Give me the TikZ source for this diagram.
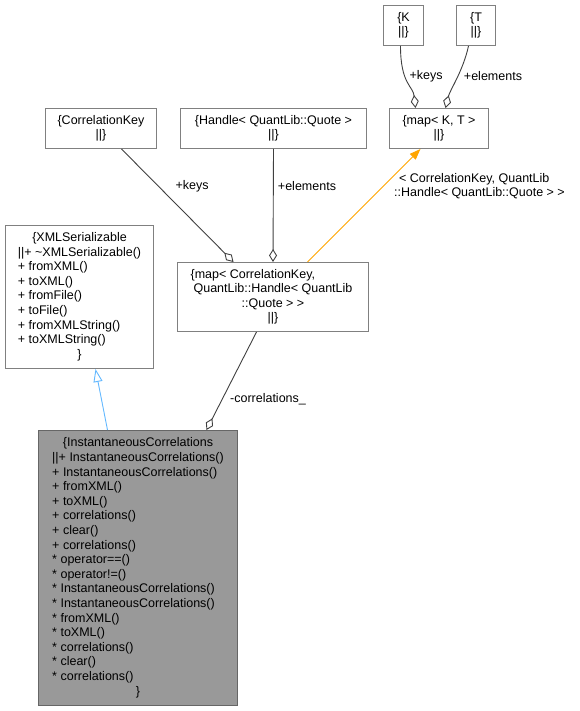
\documentclass[tikz,border=0pt]{standalone}
\usepackage{fontspec}
\setmainfont{Liberation Sans}
\usetikzlibrary{arrows.meta,calc}
\definecolor{boxgray}{HTML}{808080}
\definecolor{edgegray}{HTML}{404040}
\definecolor{mainfill}{HTML}{999999}
\definecolor{mainborder}{HTML}{666666}
\definecolor{inhblue}{HTML}{63B8FF}
\definecolor{tplorange}{HTML}{FFA500}
\newcommand\mkc[1]{\multicolumn{1}{@{}c@{}}{#1}}
\begin{document}
\begin{tikzpicture}[x=1pt,y=-1pt,
  box/.style={draw=boxgray, fill=white, line width=1pt, inner sep=0pt, anchor=north west,
    font=\fontsize{12.5}{14.6}\selectfont},
  mainbox/.style={box, draw=mainborder, fill=mainfill},
  lbl/.style={inner sep=0pt, font=\fontsize{12.5}{14.6}\selectfont},
  agg/.style={draw=edgegray, line width=0.9pt, -{Diamond[open,length=13pt,width=8pt]}},
  inh/.style={draw=inhblue, line width=0.9pt, -{Triangle[open,length=13pt,width=9pt]}},
  tpl/.style={draw=tplorange, line width=0.9pt, -{Triangle[length=11pt,width=8pt,fill=tplorange]}}
]
\useasboundingbox (0,0) rectangle (579,711);

% nodes
\node[box, minimum width=40, minimum height=40] (K) at (383,5)
  {\begin{tabular}{@{}c@{}}\{K\\||\}\end{tabular}};
\node[box, minimum width=39, minimum height=40] (T) at (456,5)
  {\begin{tabular}{@{}c@{}}\{T\\||\}\end{tabular}};
\node[box, minimum width=99, minimum height=40] (mapKT) at (389,108)
  {\begin{tabular}{@{}c@{}}\{map< K, T >\\||\}\end{tabular}};
\node[box, minimum width=111, minimum height=40] (CK) at (45,108)
  {\begin{tabular}{@{}c@{}}\{CorrelationKey\\||\}\end{tabular}};
\node[box, minimum width=186, minimum height=40] (Handle) at (180,108)
  {\begin{tabular}{@{}c@{}}\{Handle< QuantLib::Quote >\\||\}\end{tabular}};
\node[box, minimum width=148, minimum height=143] (XML) at (5,225)
  {\begin{tabular}{@{}l@{}}\mkc{\{XMLSerializable}\\
   ||+ \textasciitilde XMLSerializable()\\
   + fromXML()\\
   + toXML()\\
   + fromFile()\\
   + toFile()\\
   + fromXMLString()\\
   + toXMLString()\\
   \mkc{\}}\end{tabular}};
\node[box, minimum width=191, minimum height=69] (mapCK) at (177,262)
  {\begin{tabular}{@{}l@{}}\hspace*{-3pt}\{map< CorrelationKey,\\
   \mkc{QuantLib::Handle< QuantLib}\\
   \mkc{::Quote > >}\\
   \mkc{||\}}\end{tabular}};
\node[mainbox, minimum width=199, minimum height=275] (Inst) at (38,430)
  {\begin{tabular}{@{}l@{}}\mkc{\{InstantaneousCorrelations}\\
   ||+ InstantaneousCorrelations()\\
   + InstantaneousCorrelations()\\
   + fromXML()\\
   + toXML()\\
   + correlations()\\
   + clear()\\
   + correlations()\\
   {*} operator==()\\
   {*} operator!=()\\
   {*} InstantaneousCorrelations()\\
   {*} InstantaneousCorrelations()\\
   {*} fromXML()\\
   {*} toXML()\\
   {*} correlations()\\
   {*} clear()\\
   {*} correlations()\\
   \mkc{\}}\end{tabular}};

% connectors
\draw[agg] ([xshift=-3pt]K.south) .. controls ([xshift=-3pt,yshift=-38pt]K.south) and ([xshift=-26pt,yshift=22pt]mapKT.north) .. ([xshift=-23.5pt]mapKT.north);
\draw[agg] ([xshift=-7.5pt]T.south) .. controls ([xshift=-13pt,yshift=-25pt]T.south) and ([xshift=11pt,yshift=18pt]mapKT.north) .. ([xshift=6.5pt]mapKT.north);
\draw[agg] ([xshift=20.5pt]CK.south) -- ([xshift=-39.5pt]mapCK.north);
\draw[agg] (Handle.south) -- (mapCK.north);
\draw[tpl] ([xshift=34.5pt]mapCK.north) -- ([xshift=-18.5pt]mapKT.south);
\draw[agg] ([xshift=-16.5pt]mapCK.south) -- ([xshift=68.5pt]Inst.north);
\draw[inh] ([xshift=-30.5pt]Inst.north) -- ([xshift=16pt]XML.south);

% edge labels
\node[lbl] (lk1) at (426,76) {+keys};
\node[lbl] (le1) at (493,76) {+elements};
\node[lbl] (lk2) at (192,186) {+keys};
\node[lbl] (le2) at (307,186) {+elements};
\node[lbl] (lc) at (268,399) {-correlations\_};
\node[lbl, anchor=west, align=left] (lo) at (394,186)
  {\hspace*{5pt}< CorrelationKey, QuantLib\\::Handle< QuantLib::Quote > >};
\end{tikzpicture}
\end{document}
